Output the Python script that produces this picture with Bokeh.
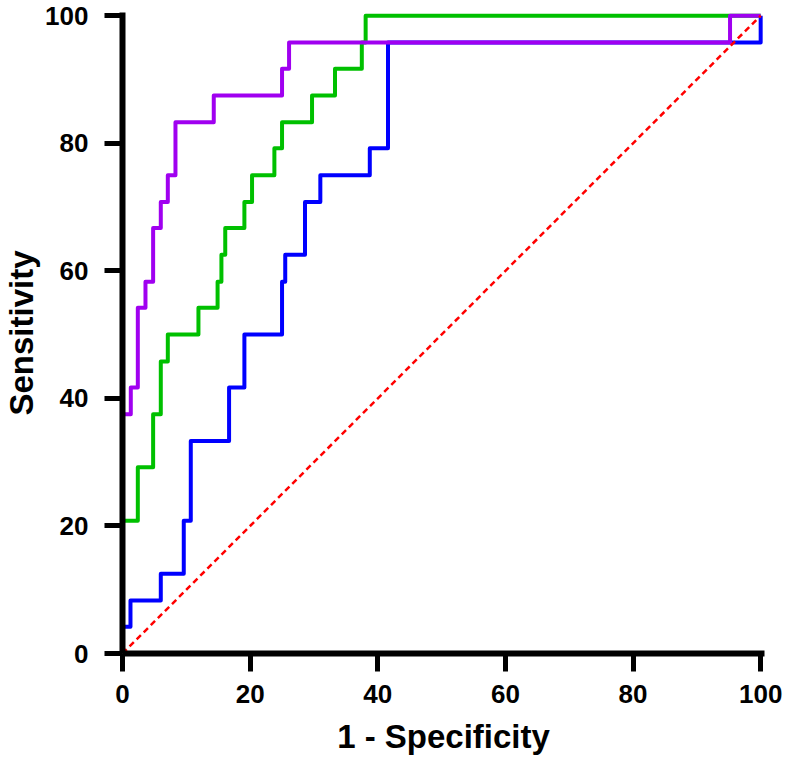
from bokeh.plotting import figure
from bokeh.models import Range1d, FixedTicker
from bokeh.embed import file_html
from bokeh.resources import INLINE

# ROC points (1 - specificity, sensitivity), in %
blue_fpr = [0, 0, 1.25, 6.0, 9.6, 10.7, 16.7, 19.1, 25.0, 25.5, 28.6, 31.0, 38.75, 41.6, 100, 100]
blue_tpr = [0, 4.2, 8.3, 12.5, 20.8, 33.3, 41.7, 50.0, 58.3, 62.5, 70.8, 75.0, 79.2, 95.8, 95.8, 100]

green_fpr = [0, 0, 2.4, 4.8, 6.0, 7.1, 11.9, 14.9, 15.5, 16.1, 19.1, 20.3, 23.8, 25.0, 29.7, 33.3, 37.5, 38.1, 100]
green_tpr = [0, 20.8, 29.2, 37.5, 45.8, 50.0, 54.2, 58.3, 62.5, 66.7, 70.8, 75.0, 79.2, 83.3, 87.5, 91.7, 95.8, 100, 100]

purple_fpr = [0, 0, 1.3, 2.4, 3.6, 4.8, 6.0, 7.1, 8.3, 14.3, 25.0, 26.1, 95.2, 100]
purple_tpr = [0, 37.5, 41.7, 54.2, 58.3, 66.7, 70.8, 75.0, 83.3, 87.5, 91.7, 95.8, 100, 100]

ref_x = [0, 100]
ref_y = [0, 100]

ticks = [0, 20, 40, 60, 80, 100]

p = figure(width=786, height=767, x_range=Range1d(0, 100.6), y_range=Range1d(0, 100.5),
           output_backend="svg", toolbar_location=None,
           min_border_left=121, min_border_right=22, min_border_top=12, min_border_bottom=114)
p.outline_line_color = None
p.xgrid.visible = False
p.ygrid.visible = False
p.background_fill_color = "white"
p.border_fill_color = "white"

p.step(blue_fpr, blue_tpr, mode="after", line_color="#0000FF", line_width=4, line_join="round")
p.step(green_fpr, green_tpr, mode="after", line_color="#00C000", line_width=4, line_join="round")
p.step(purple_fpr, purple_tpr, mode="after", line_color="#A000F0", line_width=4, line_join="round")
p.line(ref_x, ref_y, line_color="#FF0000", line_width=2.5, line_dash="6 4")

for ax in (p.xaxis[0], p.yaxis[0]):
    ax.ticker = FixedTicker(ticks=ticks)
    ax.axis_line_width = 6
    ax.axis_line_color = "black"
    ax.major_tick_line_width = 5
    ax.major_tick_line_color = "black"
    ax.major_tick_out = 18
    ax.major_tick_in = 0
    ax.minor_tick_line_color = None
    ax.major_label_text_font = "Liberation Sans"
    ax.major_label_text_font_style = "bold"
    ax.major_label_text_font_size = "26px"
    ax.major_label_text_color = "black"
    ax.axis_label_text_font = "Liberation Sans"
    ax.axis_label_text_font_style = "bold"
    ax.axis_label_text_font_size = "33px"
    ax.axis_label_text_color = "black"

p.xaxis.axis_label = "1 - Specificity"
p.yaxis.axis_label = "Sensitivity"
p.xaxis.major_label_standoff = 13
p.yaxis.major_label_standoff = 16
p.xaxis.axis_label_standoff = 12
p.yaxis.axis_label_standoff = 2

open("out.html", "w").write(file_html(p, INLINE))
